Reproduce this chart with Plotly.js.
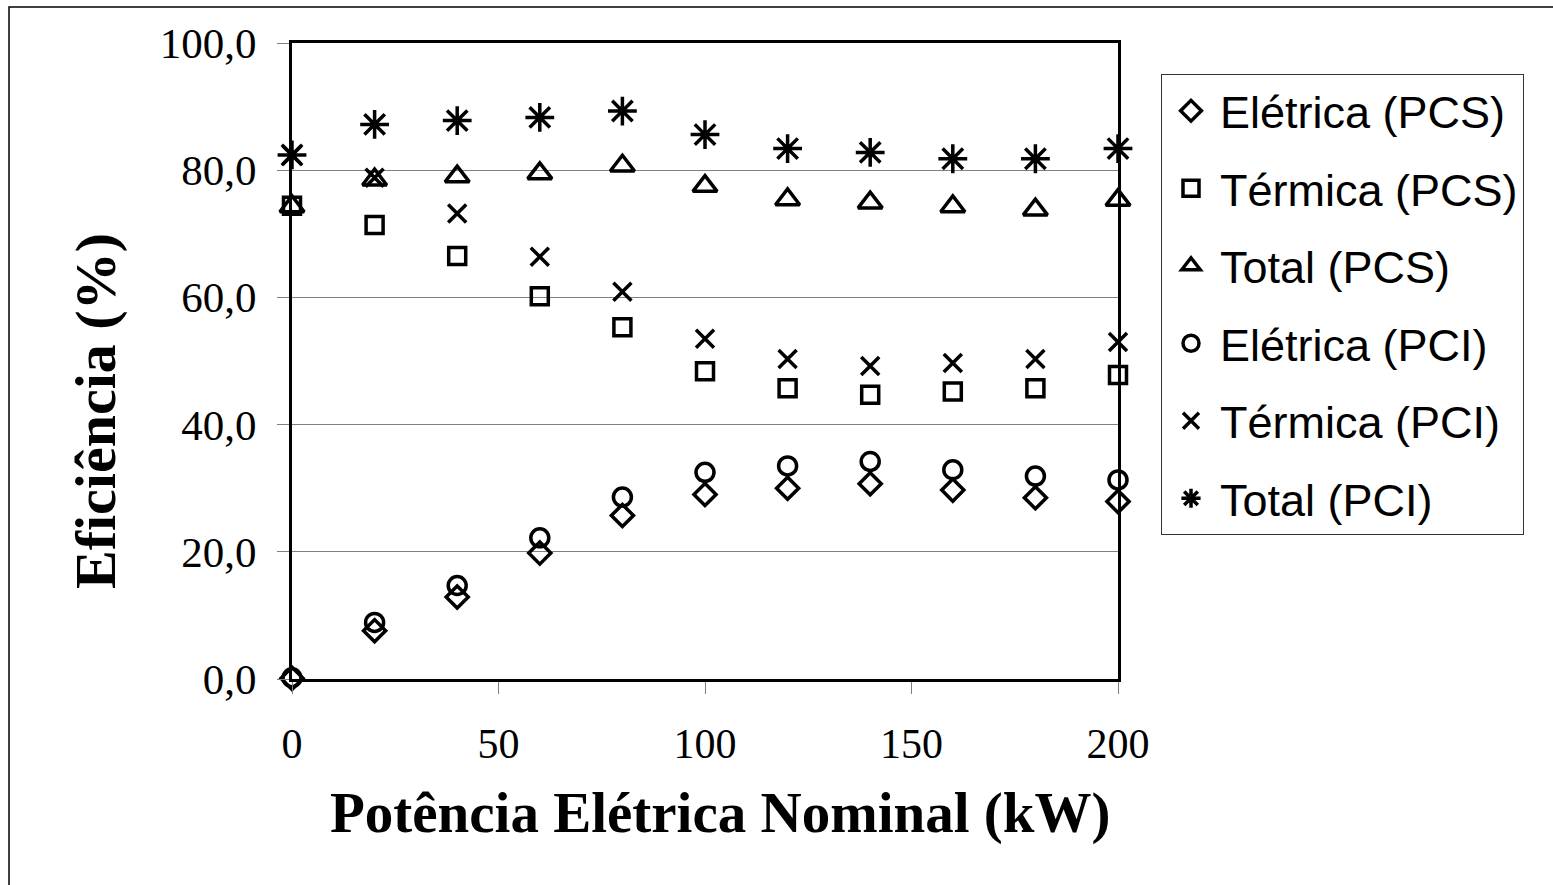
<!DOCTYPE html>
<html>
<head>
<meta charset="utf-8">
<script src="https://cdn.plot.ly/plotly-3.0.1.min.js"></script>
<style>
  html, body { margin: 0; padding: 0; background: #ffffff; }
  #chart { width: 1553px; height: 885px; }
</style>
</head>
<body>
<div id="chart"></div>
<script>
// Potência elétrica nominal (kW)
const potencia = [0, 20, 40, 60, 80, 100, 120, 140, 160, 180, 200];

// Eficiência (%)
const eletricaPCS = [0.1, 7.6, 12.9, 19.8, 25.7, 29.0, 30.0, 30.7, 29.7, 28.5, 27.9];
const termicaPCS  = [74.4, 71.4, 66.5, 60.2, 55.3, 48.4, 45.7, 44.7, 45.2, 45.7, 47.8];
const totalPCS    = [74.3, 78.5, 79.0, 79.5, 80.7, 77.5, 75.4, 74.9, 74.3, 73.8, 75.3];
const eletricaPCI = [0.2, 8.9, 14.7, 22.2, 28.6, 32.5, 33.5, 34.2, 32.9, 31.9, 31.3];
const termicaPCI  = [82.4, 78.8, 73.2, 66.4, 60.9, 53.5, 50.3, 49.2, 49.7, 50.3, 53.0];
const totalPCI    = [82.4, 87.2, 87.8, 88.3, 89.3, 85.6, 83.4, 82.8, 81.8, 81.8, 83.4];

const seriesNames = ['Elétrica (PCS)', 'Térmica (PCS)', 'Total (PCS)', 'Elétrica (PCI)', 'Térmica (PCI)', 'Total (PCI)'];
const xTickVals = [0, 50, 100, 150, 200];
const yTickVals = [0, 20, 40, 60, 80, 100];
const yTickText = ['0,0', '20,0', '40,0', '60,0', '80,0', '100,0'];

const seriesData = [eletricaPCS, termicaPCS, totalPCS, eletricaPCI, termicaPCI, totalPCI];
const symbols = ['diamond-open', 'square-open', 'triangle-up-open', 'circle-open', 'x-thin-open', 'asterisk-open'];
const sizes = [17, 17, 21, 18, 18, 24];

const traces = seriesData.map((ys, i) => ({
  type: 'scatter',
  mode: 'markers',
  name: seriesNames[i],
  legendgroup: 'g' + i,
  x: potencia,
  y: ys,
  cliponaxis: false,
  marker: {
    symbol: symbols[i],
    size: sizes[i],
    color: '#000000',
    line: { color: '#000000', width: 3.5 }
  },
  hoverinfo: 'x+y+name'
}));

const L = 292, R = 1118, T = 43, B = 679, W = 1553, H = 885;
const px = v => (v - L) / (R - L);
const py = v => (B - v) / (B - T);

const layout = {
  width: W,
  height: H,
  margin: { l: L, r: W - R, t: T, b: H - B, pad: 0 },
  paper_bgcolor: '#ffffff',
  plot_bgcolor: '#ffffff',
  showlegend: true,
  font: { family: 'Liberation Serif, Times New Roman, serif', color: '#000000' },
  xaxis: {
    range: [0, 200],
    tickvals: xTickVals,
    ticktext: xTickVals.map(String),
    ticks: 'outside',
    ticklen: 12,
    tickwidth: 1,
    tickcolor: '#808080',
    ticklabelstandoff: 14,
    tickfont: { family: 'Liberation Serif, Times New Roman, serif', size: 42, color: '#000000' },
    showgrid: false,
    zeroline: false,
    showline: true,
    linecolor: '#000000',
    linewidth: 3,
    mirror: true,
    fixedrange: true
  },
  yaxis: {
    range: [0, 100],
    tickvals: yTickVals,
    ticktext: yTickText,
    ticks: 'outside',
    ticklen: 12,
    tickwidth: 1,
    tickcolor: '#808080',
    ticklabelstandoff: 12,
    tickfont: { family: 'Liberation Serif, Times New Roman, serif', size: 43, color: '#000000' },
    showgrid: true,
    gridcolor: '#808080',
    gridwidth: 1,
    zeroline: false,
    showline: true,
    linecolor: '#000000',
    linewidth: 3,
    mirror: true,
    fixedrange: true
  },
  legend: {
    x: px(1161),
    y: py(74),
    xanchor: 'left',
    yanchor: 'top',
    bgcolor: '#ffffff',
    bordercolor: '#333333',
    borderwidth: 1,
    traceorder: 'grouped',
    tracegroupgap: 16,
    itemwidth: 48,
    font: { family: 'Liberation Sans, Arial, sans-serif', size: 45, color: '#000000' }
  },
  annotations: [
    {
      xref: 'paper', yref: 'paper',
      x: px(720), y: py(813),
      xanchor: 'center', yanchor: 'middle',
      showarrow: false,
      text: '<b>Potência Elétrica Nominal (kW)</b>',
      font: { family: 'Liberation Serif, Times New Roman, serif', size: 57, color: '#000000' }
    },
    {
      xref: 'paper', yref: 'paper',
      x: px(95), y: py(411),
      xanchor: 'center', yanchor: 'middle',
      textangle: -90,
      showarrow: false,
      text: '<b>Eficiência (%)</b>',
      font: { family: 'Liberation Serif, Times New Roman, serif', size: 58, color: '#000000' }
    }
  ],
  shapes: [
    {
      type: 'rect', xref: 'paper', yref: 'paper',
      x0: px(9), x1: px(1600), y0: py(7), y1: py(940),
      line: { color: '#000000', width: 1.5 },
      fillcolor: 'rgba(0,0,0,0)',
      layer: 'below'
    }
  ]
};

Plotly.newPlot('chart', traces, layout, { displayModeBar: false, staticPlot: true });
</script>
</body>
</html>
